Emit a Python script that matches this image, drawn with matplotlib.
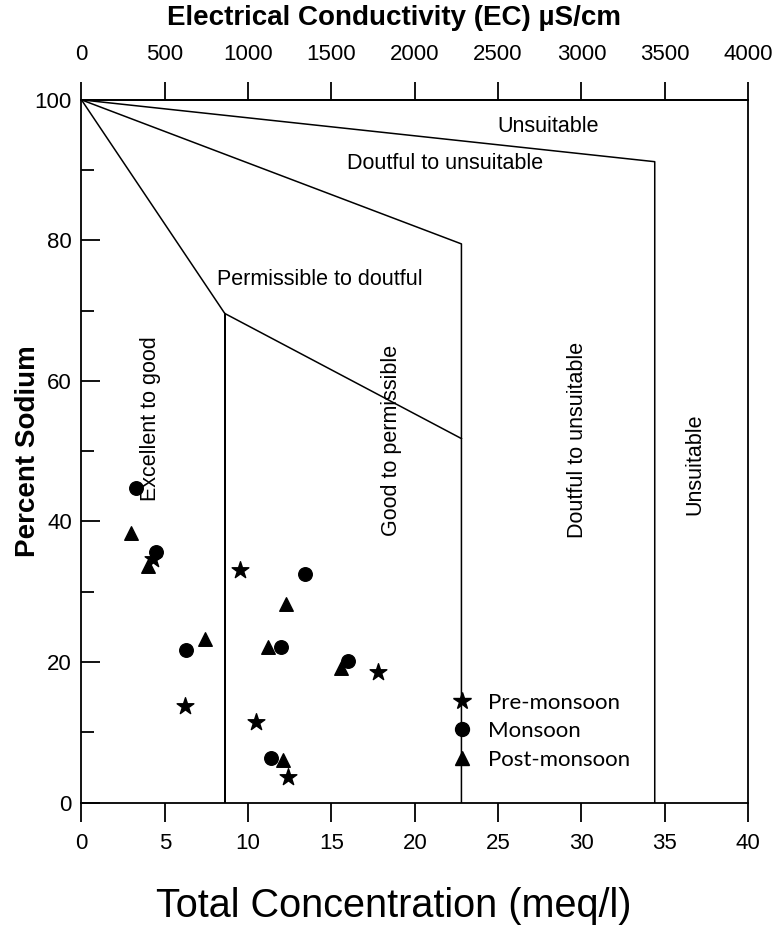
import matplotlib.pyplot as plt
from matplotlib.lines import Line2D

# Wilcox diagram : Percent sodium against total concentration / EC

#####################################
# Sample points (total conc. meq/l, %Na)
#####################################
pre_tc = [4.3, 9.5, 17.8, 6.2, 10.5, 12.4]
pre_na = [34.6, 33.1, 18.6, 13.8, 11.5, 3.7]

mon_tc = [3.3, 4.5, 13.4, 6.3, 12.0, 16.0, 11.4]
mon_na = [44.7, 35.7, 32.5, 21.7, 22.1, 20.2, 6.3]

post_tc = [3.0, 4.0, 12.3, 7.4, 11.2, 15.6, 12.1]
post_na = [38.3, 33.6, 28.3, 23.3, 22.1, 19.1, 6.0]

#####################################
# Class boundaries
#####################################
# excellent / good -> permissible / doubtful
b1_tc = [0, 8.6, 8.6, 8.6, 22.8]
b1_na = [100, 69.6, 0, 69.6, 51.8]
# permissible -> doubtful / unsuitable
b2_tc = [0, 22.8, 22.8]
b2_na = [100, 79.5, 0]
# doubtful -> unsuitable
b3_tc = [0, 34.4, 34.4]
b3_na = [100, 91.2, 0]

tc_ticks = list(range(0, 41, 5))
na_ticks = list(range(0, 101, 20))
ec_ticks = list(range(0, 4001, 500))

zones_h = ["Unsuitable", "Doutful to unsuitable", "Permissible to doutful"]
zones_h_xy = [(28.0, 96.2), (21.8, 90.9), (14.3, 74.4)]
zones_v = ["Excellent to good", "Good to permissible", "Doutful to unsuitable", "Unsuitable"]
zones_v_xy = [(4.15, 54.6), (18.6, 51.6), (29.75, 51.6), (36.8, 48.1)]

plt.rcParams['font.family'] = ['Liberation Sans', 'DejaVu Sans']

fig = plt.figure(figsize=(7.76, 9.42), dpi=100)
ax = fig.add_axes([0.105, 0.148, 0.859, 0.746])
ax.set_xlim(0, 40)
ax.set_ylim(0, 100)

for bx, by in [(b1_tc, b1_na), (b2_tc, b2_na), (b3_tc, b3_na)]:
    ax.plot(bx, by, color='black', lw=1.1, zorder=2)

ax.scatter(pre_tc, pre_na, marker='*', s=160, color='black', zorder=3)
ax.scatter(mon_tc, mon_na, marker='o', s=95, color='black', zorder=4)
ax.scatter(post_tc, post_na, marker='^', s=95, color='black', zorder=5)

for txt, (x, y) in zip(zones_h, zones_h_xy):
    ax.text(x, y, txt, fontsize=15.5, ha='center', va='center')
for txt, (x, y) in zip(zones_v, zones_v_xy):
    ax.text(x, y, txt, fontsize=15.5, ha='center', va='center', rotation=90)

# axes / ticks
for sp in ax.spines.values():
    sp.set_linewidth(1.3)
ax.set_xticks(tc_ticks)
ax.set_yticks(na_ticks)
ax.set_yticks(range(10, 100, 20), minor=True)
ax.tick_params(axis='x', direction='out', length=14, width=1.3, pad=8, labelsize=16)
ax.tick_params(axis='y', which='major', direction='in', length=14, width=1.3, pad=7, labelsize=16)
ax.tick_params(axis='y', which='minor', direction='in', length=9, width=1.3)

secax = ax.secondary_xaxis('top', functions=(lambda tc: tc * 100, lambda ec: ec / 100))
secax.set_xticks(ec_ticks)
secax.tick_params(direction='out', length=13, width=1.3, pad=12, labelsize=16)
secax.spines['top'].set_linewidth(1.3)

fig.text(0.508, 0.981, "Electrical Conductivity (EC) µS/cm", fontsize=20, fontweight='bold',
         ha='center', va='center')
fig.text(0.036, 0.521, "Percent Sodium", fontsize=20, fontweight='bold',
         ha='center', va='center', rotation=90)
fig.text(0.508, 0.038, "Total Concentration (meq/l)", fontsize=28.5, ha='center', va='center')

# legend
handles = [Line2D([], [], marker='*', ls='', color='black', markersize=13),
           Line2D([], [], marker='o', ls='', color='black', markersize=10),
           Line2D([], [], marker='^', ls='', color='black', markersize=10)]
ax.legend(handles, ["Pre-monsoon", "Monsoon", "Post-monsoon"], loc='upper left',
          bbox_to_anchor=(0.537, 0.172), frameon=False, borderpad=0, handlelength=1.0,
          handletextpad=0.7, labelspacing=0.38, prop={'family': 'Lato', 'size': 16})

fig.savefig("out.png", dpi=100)
